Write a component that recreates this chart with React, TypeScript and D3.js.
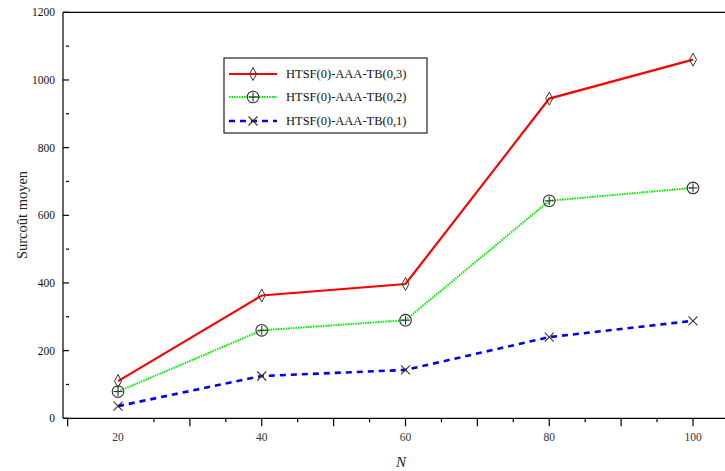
import React from "react";
import * as d3 from "d3";

const nValues = [20, 40, 60, 80, 100];
const series03 = [110, 363, 397, 945, 1060];
const series02 = [79, 260, 290, 643, 681];
const series01 = [36, 125, 143, 240, 288];
const seriesNames = ["HTSF(0)-AAA-TB(0,3)", "HTSF(0)-AAA-TB(0,2)", "HTSF(0)-AAA-TB(0,1)"];
const yMajorTicks = [0, 200, 400, 600, 800, 1000, 1200];
const yMinorTicks = [100, 300, 500, 700, 900, 1100];
const xLabelTicks = [20, 40, 60, 80, 100];
const xMajorTicks = [13, 30, 40, 50, 60, 70, 80, 90, 100];
const xMinorTicks = [25, 35, 45, 55, 65, 75, 85, 95];

const W = 725;
const H = 471;
const font = "'Liberation Serif', 'DejaVu Serif', serif";

export default function App() {
  const x = d3.scaleLinear().domain([20, 100]).range([118, 693]);
  const y = d3.scaleLinear().domain([0, 1200]).range([418.3, 12.3]);
  const x0 = 63;
  const y0 = y(0);

  const line = d3
    .line<number>()
    .x((_, i) => x(nValues[i]))
    .y((d) => y(d));

  const series = [
    { name: seriesNames[0], data: series03, color: "#ff0000", width: 2.2, dash: "none", marker: "diamond" },
    { name: seriesNames[1], data: series02, color: "#00ee00", width: 2, dash: "1.5,1", marker: "circleplus" },
    { name: seriesNames[2], data: series01, color: "#0000ee", width: 2.6, dash: "6,5", marker: "cross" },
  ];

  const marker = (type: string, cx: number, cy: number, key: string) => {
    const mc = "#333";
    if (type === "diamond") {
      return (
        <path
          key={key}
          d={`M${cx},${cy - 6.5} L${cx + 3.5},${cy} L${cx},${cy + 6.5} L${cx - 3.5},${cy} Z`}
          fill="none"
          stroke={mc}
          strokeWidth={1}
        />
      );
    }
    if (type === "circleplus") {
      return (
        <g key={key} stroke={mc} strokeWidth={1.1} fill="none">
          <circle cx={cx} cy={cy} r={5.8} />
          <line x1={cx - 4.5} x2={cx + 4.5} y1={cy} y2={cy} />
          <line x1={cx} x2={cx} y1={cy - 4.5} y2={cy + 4.5} />
        </g>
      );
    }
    return (
      <g key={key} stroke={mc} strokeWidth={1.1}>
        <line x1={cx - 4.5} x2={cx + 4.5} y1={cy - 4.5} y2={cy + 4.5} />
        <line x1={cx - 4.5} x2={cx + 4.5} y1={cy + 4.5} y2={cy - 4.5} />
      </g>
    );
  };

  const legendX = 224;
  const legendY = 58;
  const legendRowY = [74, 97, 121];

  return (
    <svg
      width={W}
      height={H}
      style={{ position: "absolute", left: 0, top: 0, background: "#fff" }}
      fontFamily={font}
    >
      <rect x={0} y={0} width={W} height={H} fill="#fff" />
      {/* axes */}
      <line x1={x0} x2={x0} y1={y(1200)} y2={y0} stroke="#000" strokeWidth={1.2} />
      <line x1={x0} x2={W} y1={y0} y2={y0} stroke="#000" strokeWidth={1.2} />
      <line x1={x0} x2={W} y1={y(1200)} y2={y(1200)} stroke="#000" strokeWidth={1.2} />

      {/* y ticks */}
      {yMajorTicks.map((t) => (
        <g key={"ym" + t}>
          <line x1={x0} x2={x0 + 6} y1={y(t)} y2={y(t)} stroke="#000" strokeWidth={1.2} />
          <text x={55} y={y(t)} dy="0.35em" textAnchor="end" fontSize={11.5} fill="#111">
            {t}
          </text>
        </g>
      ))}
      {yMinorTicks.map((t) => (
        <line key={"yn" + t} x1={x0 + 3} x2={x0 + 6} y1={y(t)} y2={y(t)} stroke="#000" strokeWidth={1.2} />
      ))}

      {/* x ticks */}
      {xMajorTicks.map((t) => (
        <line key={"xm" + t} x1={x(t)} x2={x(t)} y1={y0} y2={y0 + 8} stroke="#000" strokeWidth={1.2} />
      ))}
      {xMinorTicks.map((t) => (
        <line key={"xn" + t} x1={x(t)} x2={x(t)} y1={y0} y2={y0 + 4} stroke="#000" strokeWidth={1.2} />
      ))}
      {xLabelTicks.map((t) => (
        <text key={"xl" + t} x={x(t)} y={437} dy="0.35em" textAnchor="middle" fontSize={11.5} fill="#333">
          {t}
        </text>
      ))}

      {/* axis titles */}
      <text x={401} y={462} dy="0.35em" textAnchor="middle" fontSize={15} fontStyle="italic" fill="#222">
        N
      </text>
      <text
        transform={`translate(22,215) rotate(-90)`}
        dy="0.35em"
        textAnchor="middle"
        fontSize={14.5}
        fill="#222"
      >
        Surcoût moyen
      </text>

      {/* series */}
      {series.map((s) => (
        <g key={s.name}>
          <path
            d={line(s.data) || ""}
            fill="none"
            stroke={s.color}
            strokeWidth={s.width}
            strokeDasharray={s.dash}
          />
          {s.data.map((v, i) => marker(s.marker, x(nValues[i]), y(v), s.name + i))}
        </g>
      ))}

      {/* legend */}
      <rect x={legendX} y={legendY} width={203} height={75} fill="#fff" stroke="#222" strokeWidth={1.2} />
      {series.map((s, i) => (
        <g key={"lg" + i}>
          <line
            x1={229}
            x2={277}
            y1={legendRowY[i]}
            y2={legendRowY[i]}
            stroke={s.color}
            strokeWidth={s.width}
            strokeDasharray={s.dash}
          />
          {marker(s.marker, 253, legendRowY[i], "lm" + i)}
          <text x={286} y={legendRowY[i]} dy="0.35em" fontSize={12.5} fill="#111">
            {s.name}
          </text>
        </g>
      ))}
    </svg>
  );
}
